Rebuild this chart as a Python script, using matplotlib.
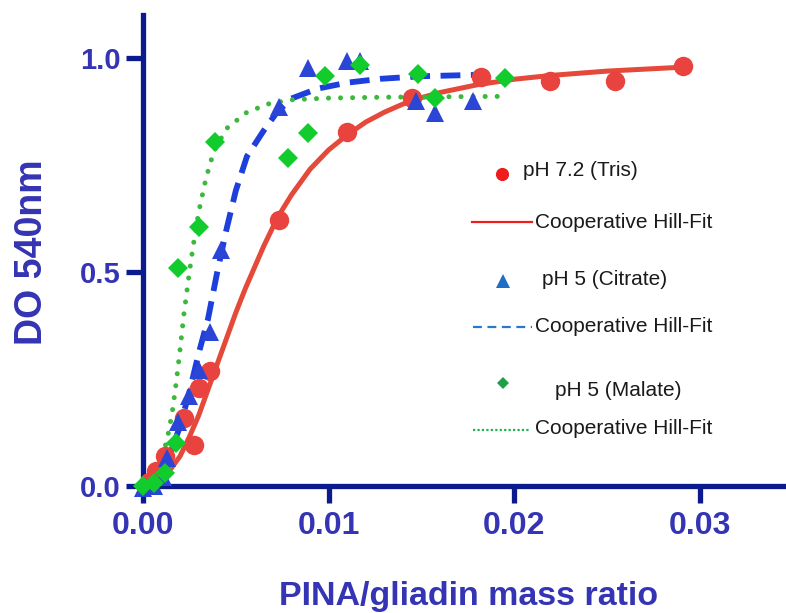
import matplotlib
matplotlib.use("Agg")
import matplotlib.pyplot as plt
from matplotlib.lines import Line2D

# measured points
tris_x = [0.0003, 0.0007, 0.0012, 0.0022, 0.00275, 0.0030, 0.0036, 0.0073, 0.0110, 0.0145, 0.0182, 0.0219, 0.0254, 0.0291]
tris_y = [0.010, 0.035, 0.070, 0.158, 0.095, 0.228, 0.268, 0.622, 0.826, 0.907, 0.955, 0.947, 0.947, 0.981]

citrate_x = [0.0000, 0.0006, 0.0011, 0.0013, 0.0019, 0.0025, 0.0030, 0.0036, 0.0042, 0.0073, 0.0089, 0.0110, 0.0117, 0.0147, 0.0157, 0.0178]
citrate_y = [-0.005, 0.000, 0.020, 0.065, 0.150, 0.210, 0.272, 0.360, 0.551, 0.884, 0.977, 0.993, 0.993, 0.900, 0.870, 0.900]

malate_x = [0.0000, 0.0006, 0.0012, 0.0018, 0.0019, 0.0030, 0.0039, 0.0078, 0.0089, 0.0098, 0.0117, 0.0148, 0.0157, 0.0195]
malate_y = [0.000, 0.008, 0.030, 0.100, 0.510, 0.606, 0.803, 0.766, 0.824, 0.958, 0.984, 0.963, 0.905, 0.954]

# Hill fit curves
tris_fit_x = [0.0, 0.0005, 0.001, 0.0015, 0.002, 0.0025, 0.003, 0.0035, 0.004, 0.0045, 0.005, 0.0055, 0.006,
              0.0065, 0.007, 0.0075, 0.008, 0.009, 0.010, 0.011, 0.012, 0.013, 0.014, 0.015, 0.016, 0.018,
              0.020, 0.022, 0.025, 0.029]
tris_fit_y = [0.0, 0.004, 0.015, 0.04, 0.07, 0.115, 0.165, 0.225, 0.285, 0.345, 0.405, 0.46, 0.51,
              0.56, 0.605, 0.645, 0.68, 0.74, 0.785, 0.82, 0.85, 0.873, 0.892, 0.907, 0.919, 0.937,
              0.95, 0.959, 0.969, 0.978]

citrate_fit_x = [0.0, 0.0006, 0.001, 0.0015, 0.002, 0.0025, 0.003, 0.0035, 0.004, 0.0045, 0.005, 0.0056,
                 0.0065, 0.0072, 0.008, 0.0094, 0.011, 0.0128, 0.015, 0.0178]
citrate_fit_y = [0.0, 0.012, 0.04, 0.08, 0.14, 0.22, 0.31, 0.39, 0.50, 0.60, 0.69, 0.77,
                 0.83, 0.872, 0.905, 0.928, 0.942, 0.951, 0.957, 0.960]

malate_fit_x = [0.0, 0.0003, 0.0006, 0.0009, 0.0011, 0.0014, 0.0016, 0.0018, 0.002, 0.0022, 0.0025, 0.0027,
                0.003, 0.0034, 0.0038, 0.0045, 0.0056, 0.0068, 0.008, 0.010, 0.013, 0.016, 0.0195]
malate_fit_y = [0.0, 0.01, 0.025, 0.045, 0.075, 0.13, 0.18, 0.245, 0.32, 0.40, 0.50, 0.56,
                0.64, 0.72, 0.78, 0.835, 0.873, 0.893, 0.902, 0.906, 0.908, 0.909, 0.910]

x_ticks = [0.00, 0.01, 0.02, 0.03]
x_ticklabels = ["0.00", "0.01", "0.02", "0.03"]
y_ticks = [0.0, 0.5, 1.0]
y_ticklabels = ["0.0", "0.5", "1.0"]

legend_labels = ["pH 7.2 (Tris)", "Cooperative Hill-Fit", "pH 5 (Citrate)",
                 "Cooperative Hill-Fit", "pH 5 (Malate)", "Cooperative Hill-Fit"]

axis_col = "#0b1a8c"
text_col = "#3434b4"
W, H = 786, 613

fig = plt.figure(figsize=(7.86, 6.13), dpi=100)
ax = fig.add_axes([143 / W, (H - 486) / H, (W - 143) / W, (486 - 15) / H])

ax.plot(tris_fit_x, tris_fit_y, color="#e4493a", lw=3.6, solid_capstyle="round", zorder=2)
ax.plot(citrate_fit_x, citrate_fit_y, color="#1d3fdc", lw=4.2, ls=(0, (3.4, 1.8)), zorder=2)
ax.plot(malate_fit_x, malate_fit_y, color="#3cb83c", lw=3.6, ls=(0, (0.01, 2.4)), dash_capstyle="round", zorder=2)

ax.plot(tris_x, tris_y, "o", color="#e8433f", ms=14, mew=0, clip_on=False, zorder=3)
ax.plot(citrate_x, citrate_y, "^", color="#2b45d6", ms=13.5, mew=0, clip_on=False, zorder=4)
ax.plot(malate_x, malate_y, "D", color="#12cc2e", ms=10.5, mew=0, clip_on=False, zorder=5)

ax.set_xlim(0, 643 / 18567)
ax.set_ylim(0, 1.10)
for s in ["top", "right"]:
    ax.spines[s].set_visible(False)
for s in ["left", "bottom"]:
    ax.spines[s].set_color(axis_col)
    ax.spines[s].set_linewidth(3.8)
    ax.spines[s].set_zorder(1)

ax.set_xticks(x_ticks)
ax.set_xticklabels(x_ticklabels)
ax.set_yticks(y_ticks)
ax.set_yticklabels(y_ticklabels)
ax.tick_params(direction="out", length=12, width=3.8, color=axis_col, labelcolor=text_col, pad=4)
ax.tick_params(axis="x", pad=6)
for lab in ax.get_xticklabels():
    lab.set_fontweight("bold")
    lab.set_fontfamily("Liberation Sans")
    lab.set_fontsize(23)
for lab in ax.get_yticklabels():
    lab.set_fontweight("bold")
    lab.set_fontfamily("Liberation Sans")
    lab.set_fontsize(21)

fig.text(469 / W, 1 - 605 / H, "PINA/gliadin mass ratio", ha="center", va="baseline",
         fontsize=24.5, fontweight="bold", color=text_col, family="Liberation Sans")
fig.text(32 / W, 1 - 252 / H, "DO 540nm", ha="center", va="center", rotation=90,
         fontsize=27, fontweight="bold", color=text_col, family="Liberation Sans")

# legend drawn by hand (GraphPad style, uneven offsets)
def fx(px):
    return px / W

def fy(py):
    return 1 - py / H

leg_font = dict(fontsize=15, color="#1a1a1a", family="Liberation Sans", va="center")
fig.add_artist(Line2D([fx(502)], [fy(174)], marker="o", ms=9.5, color="#ee1c1c", mew=0))
fig.text(fx(523), fy(170), legend_labels[0], **leg_font)
fig.add_artist(Line2D([fx(472), fx(532)], [fy(222), fy(222)], color="#ee1c1c", lw=1.6))
fig.text(fx(535), fy(222), legend_labels[1], **leg_font)
fig.add_artist(Line2D([fx(503)], [fy(281)], marker="^", ms=9.5, color="#1f6ec4", mew=0))
fig.text(fx(542), fy(280), legend_labels[2], **leg_font)
fig.add_artist(Line2D([fx(473), fx(532)], [fy(327), fy(327)], color="#2a78cc", lw=1.6, ls=(0, (4, 2.5))))
fig.text(fx(535), fy(327), legend_labels[3], **leg_font)
fig.add_artist(Line2D([fx(503)], [fy(383)], marker="D", ms=6.5, color="#1ea04a", mew=0))
fig.text(fx(555), fy(390), legend_labels[4], **leg_font)
fig.add_artist(Line2D([fx(473), fx(530)], [fy(430), fy(430)], color="#22b050", lw=1.6, ls=(0, (1, 1))))
fig.text(fx(535), fy(429), legend_labels[5], **leg_font)

fig.savefig("out.png", dpi=100)
